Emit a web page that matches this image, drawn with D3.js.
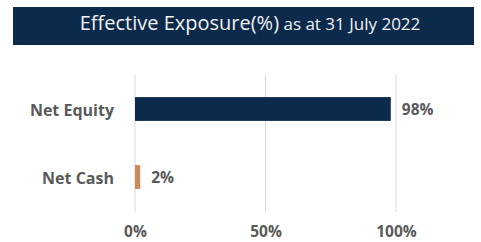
<!DOCTYPE html>
<html>
<head>
<meta charset="utf-8">
<script src="https://cdn.jsdelivr.net/npm/d3@7"></script>
<style>
  body { margin: 0; background: #fff; }
  svg { display: block; }
</style>
</head>
<body>
<script>
(function(){
//chart data
var categories = ["Net Equity", "Net Cash"];
var exposure = [98, 2]; //effective exposure in %
var barColors = ["#0c2a4b", "#c98a5c"];
var tickValues = [0, 50, 100];
var titleMain = "Effective Exposure(%)";
var titleSub = " as at 31 July 2022";

var width = 481,
    height = 242;

var svg = d3.select("body")
    .append("svg")
    .attr("width", width)
    .attr("height", height);

//header band
svg.append("rect")
    .attr("x", 13)
    .attr("y", 7)
    .attr("width", 461)
    .attr("height", 38)
    .attr("fill", "#0c2a4b");

var title = svg.append("text")
    .attr("x", 250)
    .attr("y", 29.5)
    .attr("text-anchor", "middle")
    .attr("fill", "#f2f2f2")
    .style("font-family", "'Open Sans', sans-serif");
title.append("tspan").attr("font-size", 20).text(titleMain);
title.append("tspan").attr("font-size", 17).text(titleSub);

//scales
var x = d3.scaleLinear()
    .domain([0, 100])
    .range([135, 396]);

var y = d3.scaleBand()
    .domain(categories)
    .range([75, 211])
    .paddingInner(0.65)
    .paddingOuter(0.325);

//gridlines
svg.selectAll(".grid")
    .data(tickValues)
    .enter()
    .append("line")
    .attr("class", "grid")
    .attr("x1", function(d){ return x(d); })
    .attr("x2", function(d){ return x(d); })
    .attr("y1", 75)
    .attr("y2", 212)
    .attr("stroke", "#d9d9d9")
    .attr("stroke-width", 1);

//bars
svg.selectAll(".bar")
    .data(exposure)
    .enter()
    .append("rect")
    .attr("class", "bar")
    .attr("x", x(0))
    .attr("y", function(d, i){ return y(categories[i]); })
    .attr("width", function(d){ return x(d) - x(0); })
    .attr("height", y.bandwidth())
    .attr("fill", function(d, i){ return barColors[i]; });

//value labels
svg.selectAll(".val")
    .data(exposure)
    .enter()
    .append("text")
    .attr("class", "val")
    .attr("x", function(d){ return x(d) + 11; })
    .attr("y", function(d, i){ return y(categories[i]) + y.bandwidth() / 2 + 6; })
    .attr("fill", "#595959")
    .attr("font-size", 15.5)
    .attr("font-weight", "bold")
    .style("font-family", "'Open Sans', sans-serif")
    .text(function(d){ return d + "%"; });

//category labels
svg.selectAll(".cat")
    .data(categories)
    .enter()
    .append("text")
    .attr("class", "cat")
    .attr("x", 114)
    .attr("y", function(d){ return y(d) + y.bandwidth() / 2 + 6.5; })
    .attr("text-anchor", "end")
    .attr("fill", "#595959")
    .attr("font-size", 16)
    .attr("font-weight", "bold")
    .style("font-family", "'Open Sans', sans-serif")
    .text(function(d){ return d; });

//x axis labels
var xAxis = d3.axisBottom(x)
    .tickValues(tickValues)
    .tickSize(0)
    .tickPadding(0)
    .tickFormat(function(d){ return d + "%"; });

var axisG = svg.append("g")
    .attr("transform", "translate(0,237)")
    .call(xAxis);
axisG.select(".domain").remove();
axisG.selectAll("text")
    .attr("dy", null)
    .attr("y", 0)
    .attr("fill", "#595959")
    .attr("font-size", 15.5)
    .attr("font-weight", "bold")
    .style("font-family", "'Open Sans', sans-serif");
})();
</script>
</body>
</html>
